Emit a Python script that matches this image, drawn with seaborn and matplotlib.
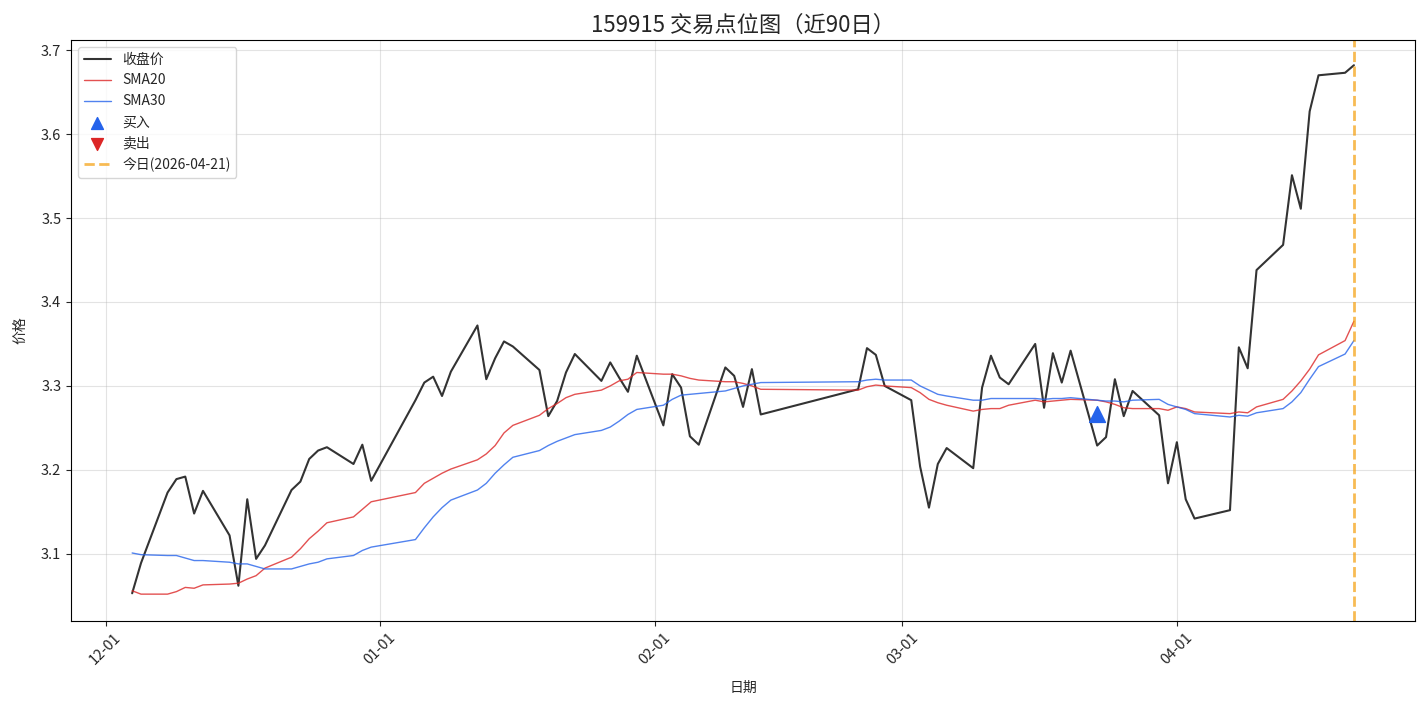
import matplotlib
matplotlib.use("Agg")
import matplotlib.pyplot as plt
import matplotlib.dates as mdates
import pandas as pd
import seaborn as sns

# trading days shown on the chart (last 90 sessions)
dates = [
    "2025-12-04", "2025-12-05", "2025-12-08", "2025-12-09", "2025-12-10", "2025-12-11", "2025-12-12",
    "2025-12-15", "2025-12-16", "2025-12-17", "2025-12-18", "2025-12-19", "2025-12-22", "2025-12-23",
    "2025-12-24", "2025-12-25", "2025-12-26", "2025-12-29", "2025-12-30", "2025-12-31",
    "2026-01-05", "2026-01-06", "2026-01-07", "2026-01-08", "2026-01-09", "2026-01-12", "2026-01-13",
    "2026-01-14", "2026-01-15", "2026-01-16", "2026-01-19", "2026-01-20", "2026-01-21", "2026-01-22",
    "2026-01-23", "2026-01-26", "2026-01-27", "2026-01-28", "2026-01-29", "2026-01-30",
    "2026-02-02", "2026-02-03", "2026-02-04", "2026-02-05", "2026-02-06", "2026-02-09", "2026-02-10",
    "2026-02-11", "2026-02-12", "2026-02-13", "2026-02-24", "2026-02-25", "2026-02-26", "2026-02-27",
    "2026-03-02", "2026-03-03", "2026-03-04", "2026-03-05", "2026-03-06", "2026-03-09", "2026-03-10",
    "2026-03-11", "2026-03-12", "2026-03-13", "2026-03-16", "2026-03-17", "2026-03-18", "2026-03-19",
    "2026-03-20", "2026-03-23", "2026-03-24", "2026-03-25", "2026-03-26", "2026-03-27", "2026-03-30",
    "2026-03-31", "2026-04-01", "2026-04-02", "2026-04-03", "2026-04-07", "2026-04-08", "2026-04-09",
    "2026-04-10", "2026-04-13", "2026-04-14", "2026-04-15", "2026-04-16", "2026-04-17", "2026-04-20",
    "2026-04-21",
]

close = [
    3.053, 3.089, 3.173, 3.189, 3.192, 3.148, 3.175, 3.122, 3.062, 3.165,
    3.094, 3.110, 3.176, 3.186, 3.213, 3.223, 3.227, 3.207, 3.230, 3.187,
    3.283, 3.304, 3.311, 3.288, 3.317, 3.372, 3.308, 3.333, 3.353, 3.347,
    3.319, 3.264, 3.282, 3.316, 3.338, 3.306, 3.328, 3.310, 3.293, 3.336,
    3.253, 3.314, 3.298, 3.240, 3.230, 3.322, 3.312, 3.275, 3.320, 3.266,
    3.296, 3.345, 3.337, 3.300, 3.283, 3.204, 3.155, 3.207, 3.226, 3.202,
    3.298, 3.336, 3.310, 3.302, 3.350, 3.274, 3.339, 3.304, 3.342, 3.229,
    3.239, 3.308, 3.264, 3.294, 3.265, 3.184, 3.233, 3.165, 3.142, 3.152,
    3.346, 3.321, 3.438, 3.468, 3.551, 3.511, 3.627, 3.670, 3.673, 3.682,
]

sma20 = [
    3.056, 3.052, 3.052, 3.055, 3.060, 3.059, 3.063, 3.064, 3.065, 3.070,
    3.074, 3.083, 3.096, 3.106, 3.118, 3.127, 3.137, 3.144, 3.153, 3.162,
    3.173, 3.184, 3.190, 3.196, 3.201, 3.212, 3.219, 3.229, 3.244, 3.253,
    3.265, 3.273, 3.279, 3.286, 3.290, 3.295, 3.300, 3.306, 3.308, 3.316,
    3.314, 3.314, 3.312, 3.309, 3.307, 3.305, 3.305, 3.303, 3.300, 3.296,
    3.295, 3.299, 3.301, 3.300, 3.298, 3.292, 3.284, 3.280, 3.277, 3.270,
    3.272, 3.273, 3.273, 3.277, 3.283, 3.281, 3.282, 3.283, 3.284, 3.283,
    3.281, 3.278, 3.274, 3.273, 3.273, 3.271, 3.275, 3.273, 3.269, 3.267,
    3.269, 3.268, 3.275, 3.284, 3.294, 3.306, 3.320, 3.337, 3.354, 3.377,
]

sma30 = [
    3.101, 3.099, 3.098, 3.098, 3.095, 3.092, 3.092, 3.090, 3.088, 3.088,
    3.085, 3.082, 3.082, 3.085, 3.088, 3.090, 3.094, 3.098, 3.104, 3.108,
    3.117, 3.131, 3.144, 3.155, 3.164, 3.176, 3.184, 3.196, 3.206, 3.215,
    3.223, 3.229, 3.234, 3.238, 3.242, 3.247, 3.251, 3.258, 3.266, 3.272,
    3.277, 3.284, 3.289, 3.290, 3.291, 3.294, 3.297, 3.300, 3.302, 3.304,
    3.305, 3.307, 3.308, 3.307, 3.307, 3.300, 3.295, 3.290, 3.288, 3.283,
    3.283, 3.285, 3.285, 3.285, 3.285, 3.284, 3.285, 3.285, 3.286, 3.283,
    3.282, 3.282, 3.281, 3.283, 3.284, 3.278, 3.275, 3.272, 3.267, 3.263,
    3.265, 3.264, 3.268, 3.273, 3.281, 3.292, 3.308, 3.323, 3.338, 3.354,
]

buy_dates = ["2026-03-23"]
buy_prices = [3.267]
sell_dates = []
sell_prices = []
today = "2026-04-21"

df = pd.DataFrame({
    "date": pd.to_datetime(dates),
    "close": close,
    "sma20": sma20,
    "sma30": sma30,
})

sns.set_style("ticks")
plt.rcParams["font.family"] = ["Noto Sans CJK SC", "DejaVu Sans"]
plt.rcParams["axes.unicode_minus"] = False

fig = plt.figure(figsize=(14.27, 7.06), dpi=100)
ax = fig.add_axes([0.0498, 0.1204, 0.9418, 0.8229])

sns.lineplot(data=df, x="date", y="close", ax=ax, color="black", alpha=0.8,
             linewidth=1.5, label="收盘价")
sns.lineplot(data=df, x="date", y="sma20", ax=ax, color="#dc2626", alpha=0.8,
             linewidth=1.0, label="SMA20")
sns.lineplot(data=df, x="date", y="sma30", ax=ax, color="#2563eb", alpha=0.8,
             linewidth=1.0, label="SMA30")
ax.scatter(pd.to_datetime(buy_dates), buy_prices, marker="^", s=130,
           color="#2563eb", zorder=5, label="买入")
ax.scatter(pd.to_datetime(sell_dates), sell_prices, marker="v", s=130,
           color="#dc2626", zorder=5, label="卖出")
ax.axvline(pd.to_datetime(today), color="#f59e0b", linestyle="--",
           linewidth=2, alpha=0.7, label=f"今日({today})")

ax.set_ylim(3.020, 3.712)
ax.xaxis.set_major_locator(mdates.MonthLocator())
ax.xaxis.set_major_formatter(mdates.DateFormatter("%m-%d"))
ax.tick_params(labelsize=10.5)
plt.setp(ax.get_xticklabels(), rotation=45)
for s in ax.spines.values():
    s.set_color("black")
ax.grid(True, color="#b0b0b0", alpha=0.35)
ax.set_title("159915 交易点位图（近90日）", fontsize=16)
ax.set_xlabel("日期", labelpad=10)
ax.set_ylabel("价格", labelpad=10)
ax.legend(loc="upper left", markerscale=0.75)

fig.savefig("out.png", dpi=100)
plt.close(fig)
